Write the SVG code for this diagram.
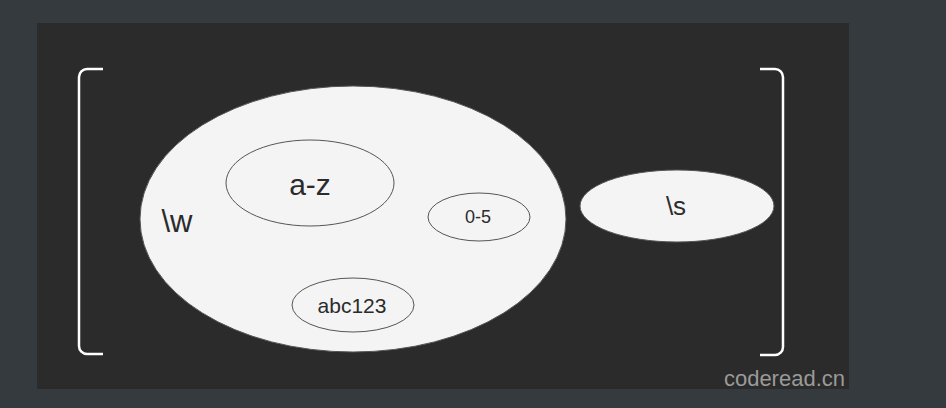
<svg xmlns="http://www.w3.org/2000/svg" width="946" height="408" viewBox="0 0 946 408">
<style>
.bracket{fill:none;stroke:#ffffff;stroke-width:2.5;stroke-linecap:butt}
.set{fill:#f4f4f4;stroke:#555;stroke-width:1}
.sub{fill:none;stroke:#555;stroke-width:1}
text{font-family:"Liberation Sans",Arial,sans-serif;fill:#2b2b2b;text-anchor:middle}
</style>
<rect x="0" y="0" width="946" height="408" fill="#353a3f"/>
<rect x="37" y="23" width="812" height="366" fill="#2b2b2b"/>
<g id="bracket-left"><path class="bracket" d="M103,69 H87 A8,8 0 0 0 79,77 V346 A8,8 0 0 0 87,354 H103"/></g>
<g id="bracket-right"><path class="bracket" d="M760,69 H775 A8,8 0 0 1 783,77 V347 A8,8 0 0 1 775,355 H760"/></g>
<g id="w"><ellipse class="set" cx="353" cy="219" rx="213" ry="133"/><text x="177" y="232" font-size="31">\w</text></g>
<g id="az"><ellipse class="sub" cx="310" cy="183" rx="84" ry="43"/><text x="310" y="195" font-size="30">a-z</text></g>
<g id="n05"><ellipse class="sub" cx="479" cy="217" rx="51" ry="24"/><text x="478" y="223" font-size="18">0-5</text></g>
<g id="abc123"><ellipse class="sub" cx="353" cy="305" rx="61" ry="27"/><text x="352" y="313" font-size="21">abc123</text></g>
<g id="s"><ellipse class="set" cx="677" cy="206" rx="97" ry="36"/><text x="676" y="215" font-size="26">\s</text></g>
<g id="connectors"></g>
<text x="845" y="386" font-size="22" style="fill:#9a9a9a;text-anchor:end">coderead.cn</text>
</svg>
